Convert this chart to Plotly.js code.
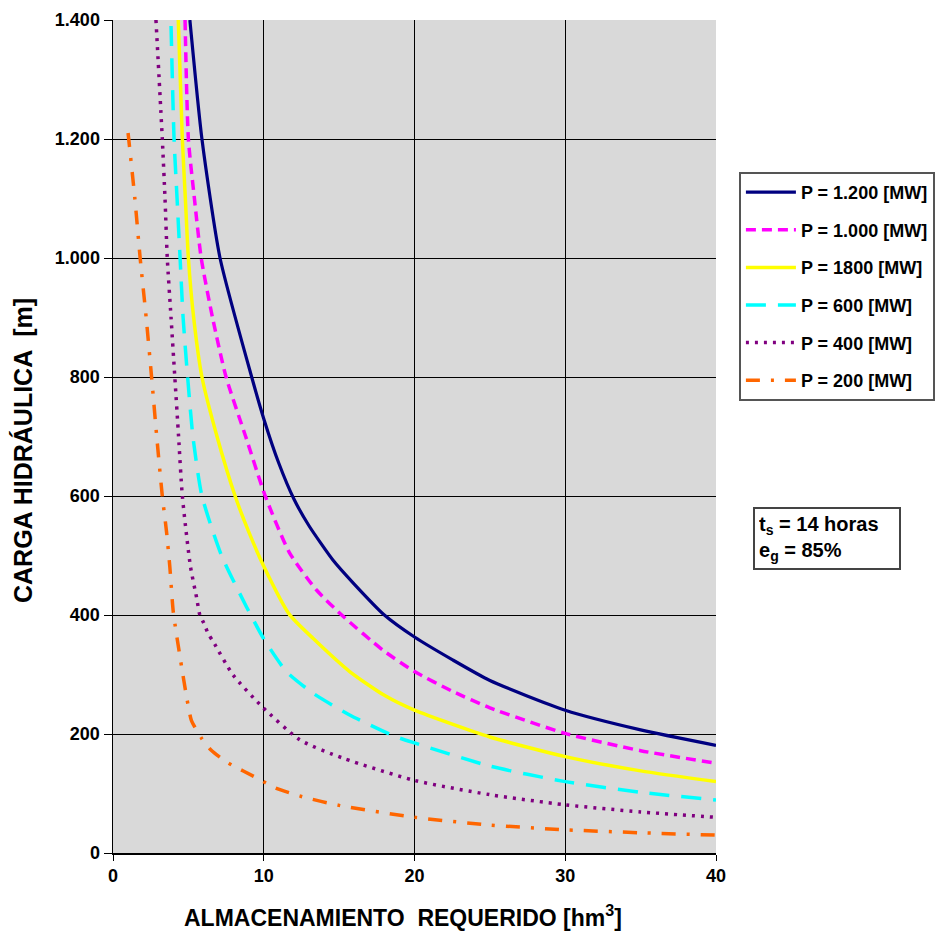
<!DOCTYPE html>
<html>
<head>
<meta charset="utf-8">
<script src="https://cdn.plot.ly/plotly-3.0.1.min.js"></script>
<style>html,body{margin:0;padding:0;background:#fff;} #chart{width:945px;height:933px;}</style>
</head>
<body>
<div id="chart"></div>
<script>
// Series (x = almacenamiento hm3, y = carga m)
const p1200_x = [5.1, 5.9, 7.1, 9.2, 10.0, 11.0, 12.0, 13.0, 14.6, 16.0, 18.0, 20.0, 22.5, 25.0, 30.0, 35.0, 40.0];
const p1200_y = [1400, 1200, 1000, 800, 730, 655, 595, 550, 492, 452, 400, 363, 325, 290, 240, 207, 181];

const p1000_x = [4.78, 5.0, 5.4, 5.85, 6.6, 7.5, 8.8, 10.1, 11.7, 13.5, 15.3, 17.9, 20.0, 22.5, 25.0, 30.0, 35.0, 40.0];
const p1000_y = [1400, 1200, 1100, 1000, 900, 800, 700, 600, 505, 442, 397, 341, 305, 272, 244, 201, 172, 151];

const p1800_x = [4.33, 4.6, 4.8, 5.0, 5.35, 5.9, 6.9, 8.1, 9.0, 10.0, 11.7, 13.3, 15.7, 18.0, 20.0, 25.0, 30.0, 35.0, 40.0];
const p1800_y = [1400, 1200, 1100, 1000, 900, 800, 700, 600, 540, 482, 401, 360, 305, 265, 240, 195, 162, 138, 120];

const p600_x = [3.85, 4.05, 4.25, 4.45, 4.65, 4.95, 5.3, 5.9, 7.2, 8.85, 10.0, 11.5, 13.3, 15.7, 18.6, 20.0, 25.0, 30.0, 35.0, 40.0];
const p600_y = [1390, 1200, 1100, 1000, 900, 800, 700, 600, 500, 414, 360, 305, 268, 232, 197, 185, 146, 120, 102, 89];

const p400_x = [2.85, 3.27, 3.45, 3.6, 3.85, 4.1, 4.35, 4.6, 5.14, 5.54, 5.76, 6.03, 6.31, 6.65, 7.97, 9.85, 12.4, 15.3, 20.0, 25.0, 30.0, 35.0, 40.0];
const p400_y = [1400, 1200, 1100, 1000, 900, 800, 700, 600, 481, 430, 400, 386, 369, 355, 299, 247, 190, 159, 122, 98, 81, 69, 60];

const p200_x = [1.0, 1.45, 1.8, 2.2, 2.56, 2.9, 3.27, 3.55, 3.77, 4.0, 4.55, 4.92, 5.2, 5.87, 6.5, 7.6, 9.7, 10.8, 12.5, 15.0, 20.0, 25.0, 30.0, 35.0, 40.0];
const p200_y = [1210, 1100, 1000, 900, 800, 700, 600, 540, 481, 405, 313, 257, 223, 193, 173, 152, 124, 109, 95, 80, 60, 47, 39, 34, 30];

const seriesNames = ['P = 1.200 [MW]', 'P = 1.000 [MW]', 'P = 1800 [MW]', 'P = 600 [MW]', 'P = 400 [MW]', 'P = 200 [MW]'];

const yTickVals = [0, 200, 400, 600, 800, 1000, 1200, 1400];
const yTickText = ['0', '200', '400', '600', '800', '1.000', '1.200', '1.400'];
const xTickVals = [0, 10, 20, 30, 40];

const FONT = 'Liberation Sans, Arial, sans-serif';

const xs = [p1200_x, p1000_x, p1800_x, p600_x, p400_x, p200_x];
const ys = [p1200_y, p1000_y, p1800_y, p600_y, p400_y, p200_y];
const styles = [
  {color: '#000080', width: 3.2, dash: 'solid'},
  {color: '#FF00FF', width: 3.5, dash: '10px,6px'},
  {color: '#FFFF00', width: 3.5, dash: 'solid'},
  {color: '#00FFFF', width: 3.5, dash: '20px,12px'},
  {color: '#800080', width: 3.5, dash: '3px,6px'},
  {color: '#FF6600', width: 3.5, dash: '14px,11px,3px,11px'}
];

const traces = seriesNames.map((n, i) => ({
  x: xs[i], y: ys[i], name: '<b>' + n + '</b>', legendgroup: 'g' + i,
  type: 'scatter', mode: 'lines',
  line: Object.assign({shape: 'spline', smoothing: 0.6}, styles[i])
}));

const layout = {
  width: 945, height: 933,
  margin: {l: 113, r: 229, t: 20, b: 80, autoexpand: false},
  paper_bgcolor: '#ffffff',
  plot_bgcolor: '#D9D9D9',
  font: {family: FONT, color: '#000'},
  showlegend: true,
  legend: {
    x: 1.038, y: 0.8175, xanchor: 'left', yanchor: 'top',
    bgcolor: '#ffffff', bordercolor: '#555555', borderwidth: 2,
    font: {family: FONT, size: 18, color: '#000'},
    tracegroupgap: 11.2, itemwidth: 50
  },
  xaxis: {
    range: [0, 40], tickvals: xTickVals, ticktext: xTickVals.map(String),
    showgrid: true, gridcolor: '#000', gridwidth: 1,
    showline: true, linecolor: '#000', linewidth: 1.5, mirror: false,
    ticks: 'outside', ticklen: 6, tickcolor: '#000',
    tickfont: {family: FONT, size: 18, color: '#000', weight: 'bold'},
    zeroline: false, fixedrange: true, automargin: false
  },
  yaxis: {
    range: [0, 1400], tickvals: yTickVals, ticktext: yTickText,
    showgrid: true, gridcolor: '#000', gridwidth: 1,
    showline: true, linecolor: '#000', linewidth: 1.5,
    ticks: 'outside', ticklen: 8, tickcolor: '#000',
    tickfont: {family: FONT, size: 18, color: '#000', weight: 'bold'},
    zeroline: false, fixedrange: true, automargin: false
  },
  annotations: [
    {xref: 'paper', yref: 'paper', x: (403 - 113) / 603, y: (853 - 916) / 833,
     text: '<b>ALMACENAMIENTO  REQUERIDO [hm<sup>3</sup>]</b>', showarrow: false,
     font: {family: FONT, size: 23, color: '#000'}, xanchor: 'center', yanchor: 'middle'},
    {xref: 'paper', yref: 'paper', x: (23 - 113) / 603, y: (853 - 451) / 833,
     text: '<b>CARGA HIDRÁULICA  [m]</b>', showarrow: false, textangle: -90,
     font: {family: FONT, size: 25, color: '#000'}, xanchor: 'center', yanchor: 'middle'},
    {xref: 'paper', yref: 'paper', x: (753 - 113) / 603, y: (853 - 507) / 833,
     text: '<b>t<sub>s</sub> = 14 horas<br>e<sub>g</sub> = 85%</b>', showarrow: false,
     align: 'left', xanchor: 'left', yanchor: 'top',
     font: {family: FONT, size: 20, color: '#000'},
     bgcolor: '#ffffff', bordercolor: '#444444', borderwidth: 2, borderpad: 4, width: 136}
  ]
};

Plotly.newPlot('chart', traces, layout, {displayModeBar: false, staticPlot: true});
</script>
</body>
</html>
